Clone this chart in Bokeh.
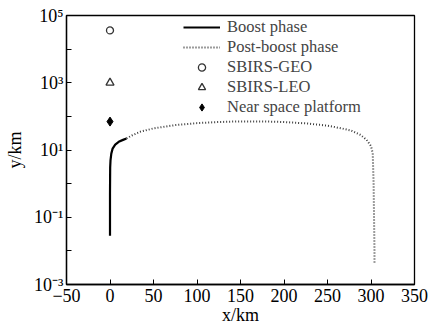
from bokeh.plotting import figure
from bokeh.models import FixedTicker, Legend, LegendItem, Range1d
from bokeh.embed import file_html
from bokeh.resources import INLINE

# Boost phase trajectory
boost_x = [0, 0, 0, 0.2, 0.6, 1.5, 3, 6, 10, 15, 19]
boost_y = [0.028, 0.1, 0.5, 3, 5, 7.8, 11, 14.5, 17.5, 20, 22]

# Post-boost phase trajectory
post_x = [19, 25, 35, 50, 75, 100, 125, 150, 175, 200, 225, 250, 266, 277, 288, 295, 300, 302, 303, 303.5, 304, 304]
post_y = [22, 27, 35, 44, 55, 63, 68, 71, 71, 68, 62, 53, 44, 38, 28, 20, 13, 8, 1, 0.1, 0.01, 0.004]

# Sensor platforms
geo_x, geo_y = [0], [36000]
leo_x, leo_y = [0], [1000]
nsp_x, nsp_y = [0], [70]

x_ticks = [-50, 0, 50, 100, 150, 200, 250, 300, 350]
x_tick_labels = ["\u221250", "0", "50", "100", "150", "200", "250", "300", "350"]
y_ticks = [1e-3, 1e-2, 1e-1, 1, 10, 100, 1e3, 1e4, 1e5]
y_tick_labels = ["10\u207b\u00b3", "", "10\u207b\u00b9", "", "10\u00b9", "", "10\u00b3", "", "10\u2075"]

FONT = "Liberation Serif"

p = figure(width=428, height=327, y_axis_type="log",
           x_range=Range1d(-50, 350), y_range=Range1d(1e-3, 1e5),
           output_backend="svg", toolbar_location=None,
           min_border_left=66, min_border_right=14, min_border_top=15, min_border_bottom=43)

p.grid.visible = False
p.outline_line_color = "black"
p.outline_line_width = 1.3
p.background_fill_color = "white"
p.border_fill_color = "white"

r_boost = p.line(boost_x, boost_y, line_color="black", line_width=2.2)
r_post = p.line(post_x, post_y, line_color="#3a3a3a", line_width=2, line_dash="1 2")
r_geo = p.scatter(geo_x, geo_y, marker="circle", size=7, fill_color=None, line_color="#333333", line_width=1.3)
r_leo = p.scatter(leo_x, leo_y, marker="triangle", size=8, fill_color=None, line_color="#333333", line_width=1.3)
r_nsp = p.scatter(nsp_x, nsp_y, marker="diamond", size=9, fill_color="black", line_color="black")

for ax in (p.xaxis[0], p.yaxis[0]):
    ax.major_tick_in = 5
    ax.major_tick_out = 0
    ax.minor_tick_in = 0
    ax.minor_tick_out = 0
    ax.axis_line_color = "black"
    ax.axis_line_width = 1.3
    ax.major_tick_line_color = "black"
    ax.major_label_text_font = FONT
    ax.major_label_text_font_size = "18px"
    ax.major_label_text_color = "black"
    ax.axis_label_text_font = FONT
    ax.axis_label_text_font_size = "18px"
    ax.axis_label_text_font_style = "normal"
    ax.axis_label_text_color = "black"

p.xaxis[0].ticker = FixedTicker(ticks=x_ticks)
p.xaxis[0].major_label_overrides = {t: l for t, l in zip(x_ticks, x_tick_labels)}
p.xaxis[0].axis_label = "x/km"
p.xaxis[0].axis_label_standoff = 0
p.xaxis[0].major_label_standoff = 4

p.yaxis[0].ticker = FixedTicker(ticks=y_ticks, minor_ticks=[])
p.yaxis[0].major_label_overrides = {t: l for t, l in zip(y_ticks, y_tick_labels)}
p.yaxis[0].axis_label = "y/km"
p.yaxis[0].axis_label_standoff = 6
p.yaxis[0].major_label_standoff = 3

legend = Legend(items=[
    LegendItem(label="Boost phase", renderers=[r_boost]),
    LegendItem(label="Post-boost phase", renderers=[r_post]),
    LegendItem(label="SBIRS-GEO", renderers=[r_geo]),
    LegendItem(label="SBIRS-LEO", renderers=[r_leo]),
    LegendItem(label="Near space platform", renderers=[r_nsp]),
], location=(117, 167))
legend.border_line_color = None
legend.background_fill_alpha = 0
legend.label_text_font = FONT
legend.label_text_font_size = "16.5px"
legend.glyph_width = 37
legend.glyph_height = 18
legend.label_height = 18
legend.spacing = 0
legend.padding = 0
legend.margin = 0
legend.label_standoff = 7
p.add_layout(legend)

open("out.html", "w").write(file_html(p, INLINE))
